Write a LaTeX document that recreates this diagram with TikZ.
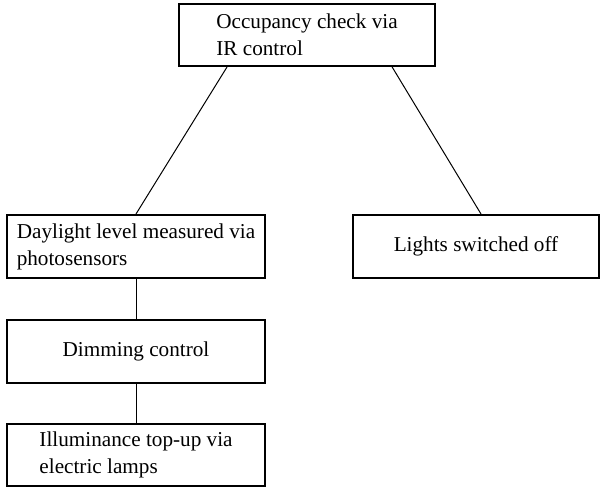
\documentclass[tikz,border=0pt]{standalone}
\usepackage{fontspec}
\setmainfont{Liberation Serif}
\usetikzlibrary{calc}

\begin{document}
\begin{tikzpicture}[x=0.5pt,y=-0.5pt,
        box/.style={draw,line width=1pt,align=left,inner sep=0pt,minimum width=129pt,minimum height=31.5pt,font=\fontsize{10.6}{13.5}\selectfont},
        link/.style={line width=0.5pt}]
        \useasboundingbox (0,0) rectangle (601,487);
        \node[box,minimum width=128pt,minimum height=31pt] (occ) at (307,35) {Occupancy check via\\IR control};
        \node[box] (day) at (136,246.5) {Daylight level measured via\\photosensors};
        \node[box,minimum width=123pt] (off) at (476,246.5) {Lights switched off};
        \node[box] (dim) at (136,351.5) {Dimming control};
        \node[box,minimum height=31pt] (lamp) at (136,455) {Illuminance top-up via\\electric lamps};
        \draw[link] ($(occ.south west)!0.19!(occ.south east)$) -- (day.north);
        \draw[link] ($(occ.south west)!0.83!(occ.south east)$) -- ($(off.north)+(5,0)$);
        \draw[link] (day.south) -- (dim.north);
        \draw[link] (dim.south) -- (lamp.north);
\end{tikzpicture}
\end{document}
